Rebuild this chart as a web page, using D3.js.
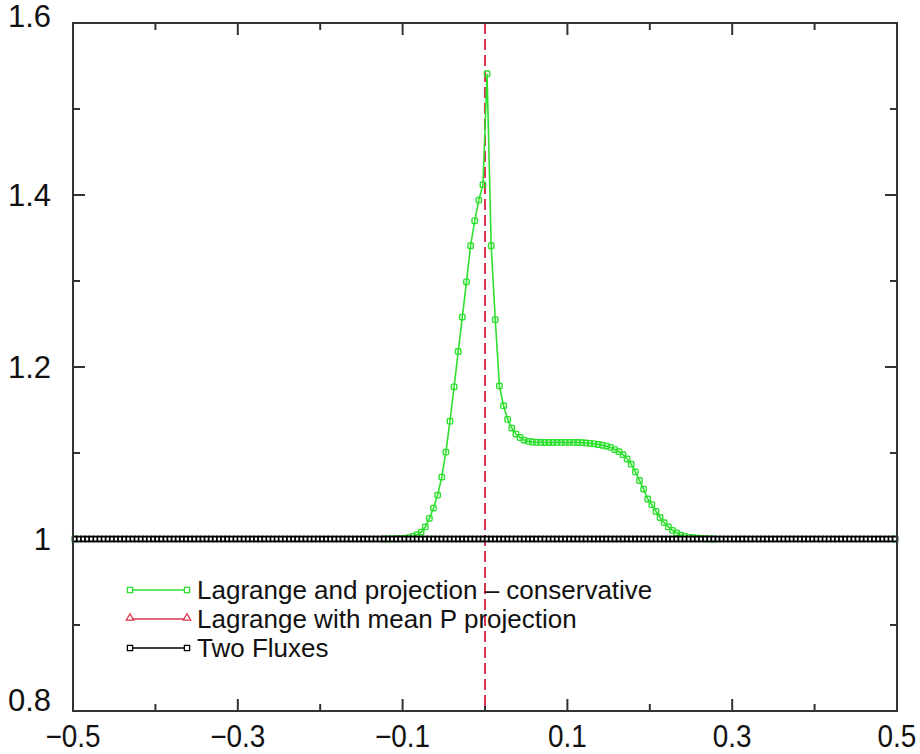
<!doctype html>
<html lang="en">
<head>
<meta charset="utf-8">
<title>Lagrange projection comparison</title>
<script src="https://cdn.jsdelivr.net/npm/d3@7"></script>
<style>
  body { margin: 0; background: #fff; }
  text { font-family: "Liberation Sans", Helvetica, Arial, sans-serif; fill: #111; }
</style>
</head>
<body>
<script>
// green series: Lagrange and projection - conservative (cell centres, bump region)
var greenX = [-0.4975, -0.1225, -0.1175, -0.1125, -0.1075, -0.1025, -0.0975, -0.0925, -0.0875, -0.0825,
  -0.0775, -0.0725, -0.0675, -0.0625, -0.0575, -0.0525, -0.0475, -0.0425, -0.0375, -0.0325,
  -0.0275, -0.0225, -0.0175, -0.0125, -0.0075, -0.0025, 0.0025, 0.0075, 0.0125, 0.0175,
  0.0225, 0.0275, 0.0325, 0.0375, 0.0425, 0.0475, 0.0525, 0.0575, 0.0625, 0.0675,
  0.0725, 0.0775, 0.0825, 0.0875, 0.0925, 0.0975, 0.1025, 0.1075, 0.1125, 0.1175,
  0.1225, 0.1275, 0.1325, 0.1375, 0.1425, 0.1475, 0.1525, 0.1575, 0.1625, 0.1675,
  0.1725, 0.1775, 0.1825, 0.1875, 0.1925, 0.1975, 0.2025, 0.2075, 0.2125, 0.2175,
  0.2225, 0.2275, 0.2325, 0.2375, 0.2425, 0.2475, 0.2525, 0.2575, 0.2625, 0.2675,
  0.2725, 0.2775, 0.4975];
var greenY = [1.0, 1.0, 1.0001, 1.0002, 1.0003, 1.0005, 1.0008, 1.0015, 1.003, 1.005,
  1.008, 1.014, 1.024, 1.036, 1.051, 1.072, 1.101, 1.137, 1.177, 1.218,
  1.258, 1.299, 1.341, 1.370, 1.394, 1.412, 1.541, 1.341, 1.255, 1.178,
  1.155, 1.139, 1.129, 1.122, 1.118, 1.115, 1.1135, 1.1128, 1.1125, 1.1123,
  1.1122, 1.1122, 1.1122, 1.1123, 1.1123, 1.1124, 1.1124, 1.1123, 1.1122, 1.112,
  1.1117, 1.1113, 1.1107, 1.1099, 1.109, 1.108, 1.1065, 1.104, 1.1015, 1.098,
  1.093, 1.087, 1.078, 1.068, 1.058, 1.0465, 1.040, 1.032, 1.025, 1.019,
  1.014, 1.010, 1.007, 1.0045, 1.003, 1.002, 1.0015, 1.001, 1.0006, 1.0003,
  1.0001, 1.0, 1.0];

// red and black series sit at 1 on every cell
var cellX = d3.range(-0.4975, 0.5, 0.005);
var redY = cellX.map(function() { return 1.0; });
var blackY = cellX.map(function() { return 1.0; });

var xTicks = [-0.5, -0.3, -0.1, 0.1, 0.3, 0.5];
var xMinor = [-0.4, -0.2, 0.0, 0.2, 0.4];
var yTicks = [0.8, 1.0, 1.2, 1.4, 1.6];
var yMinor = [0.9, 1.1, 1.3, 1.5];
var legendNames = ["Lagrange and projection \u2013 conservative", "Lagrange with mean P projection", "Two Fluxes"];

var width = 920, height = 754;
var margin = { left: 73, right: 23, top: 23, bottom: 43 };
var pw = width - margin.left - margin.right;
var ph = height - margin.top - margin.bottom;

var green = "#2ee02e", red = "#dc3552", black = "#000";

var svg = d3.select("body").append("svg")
  .attr("width", width).attr("height", height);

var x = d3.scaleLinear().domain([-0.5, 0.5]).range([0, pw]);
var y = d3.scaleLinear().domain([0.8, 1.6]).range([ph, 0]);

var g = svg.append("g").attr("transform", "translate(" + margin.left + "," + margin.top + ")");

// ticks on all four sides, pointing inward
function tickSet(vals, len) {
  vals.forEach(function(v) {
    g.append("line").attr("x1", x(v)).attr("x2", x(v)).attr("y1", ph).attr("y2", ph - len)
      .attr("stroke", "#333").attr("stroke-width", 2);
    g.append("line").attr("x1", x(v)).attr("x2", x(v)).attr("y1", 0).attr("y2", len)
      .attr("stroke", "#333").attr("stroke-width", 2);
  });
}
function ytickSet(vals, len) {
  vals.forEach(function(v) {
    g.append("line").attr("x1", 0).attr("x2", len).attr("y1", y(v)).attr("y2", y(v))
      .attr("stroke", "#333").attr("stroke-width", 2);
    g.append("line").attr("x1", pw).attr("x2", pw - len).attr("y1", y(v)).attr("y2", y(v))
      .attr("stroke", "#333").attr("stroke-width", 2);
  });
}
tickSet(xTicks, 12);
tickSet(xMinor, 7);
ytickSet(yTicks, 12);
ytickSet(yMinor, 7);

// tick labels (x labels are a bit condensed in the original)
g.selectAll(".xl").data(xTicks).enter().append("text")
  .attr("transform", function(d) { return "translate(" + x(d) + "," + (ph + 36) + ") scale(0.9,1)"; })
  .attr("text-anchor", "middle")
  .attr("font-size", "31px")
  .text(function(d) { return d3.format(".1f")(d).replace("-", "\u2013"); });

g.selectAll(".yl").data(yTicks).enter().append("text")
  .attr("x", -22)
  .attr("y", function(d, i) {
    // end labels are pulled up a little, as in the original
    var off = (i === 0) ? -11 : (i === yTicks.length - 1 ? -7 : 0);
    return y(d) + off;
  })
  .attr("dy", "0.36em")
  .attr("text-anchor", "end")
  .attr("font-size", "31px")
  .text(function(d) { return d === 1 ? "1" : d3.format(".1f")(d); });

// dashed line at x = 0
g.append("line")
  .attr("x1", x(0)).attr("x2", x(0)).attr("y1", 0).attr("y2", ph)
  .attr("stroke", red).attr("stroke-width", 2).attr("stroke-dasharray", "11,5");

var line = d3.line().x(function(d) { return x(d[0]); }).y(function(d) { return y(d[1]); });

// green series
var greenData = greenX.map(function(v, i) { return [v, greenY[i]]; });
g.append("path").datum(greenData).attr("d", line)
  .attr("fill", "none").attr("stroke", green).attr("stroke-width", 1.6);
g.selectAll(".gm").data(greenData).enter().append("rect")
  .attr("x", function(d) { return x(d[0]) - 2.7; })
  .attr("y", function(d) { return y(d[1]) - 2.7; })
  .attr("width", 5.4).attr("height", 5.4).attr("rx", 1)
  .attr("fill", "none").attr("stroke", green).attr("stroke-width", 1.4);

// red series (hidden under the black one)
var redData = cellX.map(function(v, i) { return [v, redY[i]]; });
g.append("path").datum(redData).attr("d", line)
  .attr("fill", "none").attr("stroke", red).attr("stroke-width", 1.5);

// black series
var blackData = cellX.map(function(v, i) { return [v, blackY[i]]; });
g.append("path").datum(blackData).attr("d", line)
  .attr("fill", "none").attr("stroke", black).attr("stroke-width", 3);
g.selectAll(".bm").data(blackData).enter().append("rect")
  .attr("x", function(d) { return x(d[0]) - 2.4; })
  .attr("y", function(d) { return y(d[1]) - 2.4; })
  .attr("width", 4.8).attr("height", 4.8)
  .attr("fill", "#fff").attr("stroke", black).attr("stroke-width", 1.8);

// frame
g.append("rect").attr("x", 0).attr("y", 0).attr("width", pw).attr("height", ph)
  .attr("fill", "none").attr("stroke", "#333").attr("stroke-width", 2);

// legend
var legendColors = [green, red, black];
var lg = svg.append("g").attr("transform", "translate(130,590)");
legendNames.forEach(function(name, i) {
  var row = lg.append("g").attr("transform", "translate(0," + (i * 29) + ")");
  row.append("line").attr("x1", 0).attr("x2", 57).attr("y1", 0).attr("y2", 0)
    .attr("stroke", legendColors[i]).attr("stroke-width", 1.6);
  [0, 57].forEach(function(px) {
    if (i === 1) {
      row.append("path").attr("d", d3.symbol(d3.symbolTriangle, 24)())
        .attr("transform", "translate(" + px + ",-1)")
        .attr("fill", "#fff").attr("stroke", red).attr("stroke-width", 1.3);
    } else {
      row.append("rect").attr("x", px - 2.6).attr("y", -2.6).attr("width", 5.2).attr("height", 5.2)
        .attr("fill", "#fff").attr("stroke", legendColors[i]).attr("stroke-width", 1.3);
    }
  });
  row.append("text").attr("x", 67).attr("y", 0).attr("dy", "0.36em")
    .attr("font-size", "26px").text(name);
});
</script>
</body>
</html>
